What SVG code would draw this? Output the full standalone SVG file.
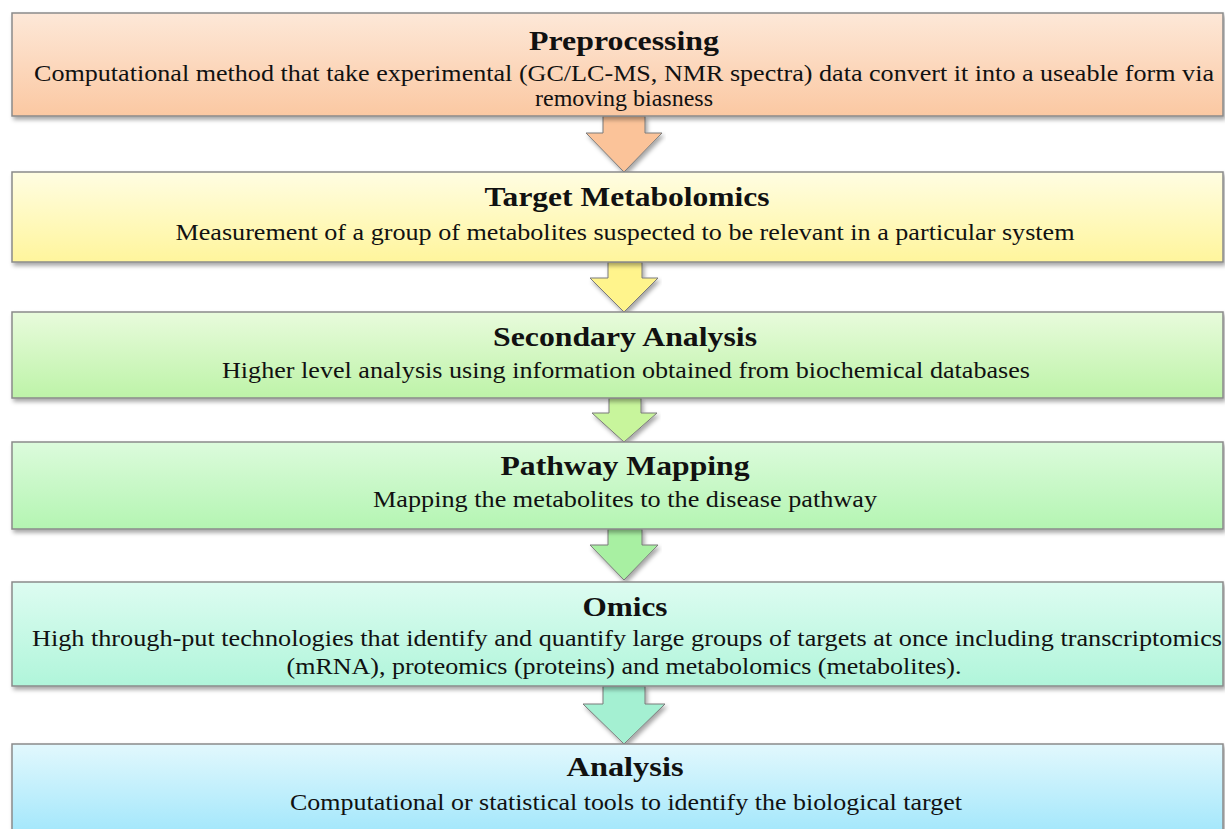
<svg xmlns="http://www.w3.org/2000/svg" width="1225" height="829" viewBox="0 0 1225 829">
<style>
.box{stroke:#8a8a8a;stroke-width:1.5;filter:url(#sh)}
.arr{stroke:#7a7a7a;stroke-width:1;filter:url(#sh)}
.t{font-family:'Liberation Serif','Times New Roman',Times,serif;font-weight:bold;font-size:27px;fill:#111;text-anchor:middle}
.b{font-family:'Liberation Serif','Times New Roman',Times,serif;font-size:23.5px;fill:#111;text-anchor:middle}
</style>
<defs>
<filter id="sh" x="-5%" y="-20%" width="110%" height="150%">
<feDropShadow dx="2" dy="3" stdDeviation="2" flood-color="#000" flood-opacity="0.35"/>
</filter>
<linearGradient id="g1" x1="0" y1="0" x2="0" y2="1"><stop offset="0" stop-color="#fde8d8"/><stop offset="1" stop-color="#fbc8a2"/></linearGradient>
<linearGradient id="g2" x1="0" y1="0" x2="0" y2="1"><stop offset="0" stop-color="#fffde2"/><stop offset="1" stop-color="#fff59c"/></linearGradient>
<linearGradient id="g3" x1="0" y1="0" x2="0" y2="1"><stop offset="0" stop-color="#e8fbdc"/><stop offset="1" stop-color="#bdf3a8"/></linearGradient>
<linearGradient id="g4" x1="0" y1="0" x2="0" y2="1"><stop offset="0" stop-color="#dcfbdc"/><stop offset="1" stop-color="#b4f5b2"/></linearGradient>
<linearGradient id="g5" x1="0" y1="0" x2="0" y2="1"><stop offset="0" stop-color="#ddfcf1"/><stop offset="1" stop-color="#b0f5da"/></linearGradient>
<linearGradient id="g6" x1="0" y1="0" x2="0" y2="1"><stop offset="0" stop-color="#e2f8fd"/><stop offset="1" stop-color="#9fe6fb"/></linearGradient>
</defs>
<rect width="1225" height="829" fill="#fff"/>
<g id="connectors">
<path class="arr" fill="#fbc399" d="M603,116 L645,116 L645,133 L662,133 L624,172 L586,133 L603,133 Z"/>
<path class="arr" fill="#fff48c" d="M608,262 L642,262 L642,278 L658,278 L624,312 L590,278 L608,278 Z"/>
<path class="arr" fill="#c8f59c" d="M609,398 L641,398 L641,413 L657,413 L624,442 L592,413 L609,413 Z"/>
<path class="arr" fill="#a8f0a2" d="M608,529 L642,529 L642,545 L658,545 L624,580 L590,545 L608,545 Z"/>
<path class="arr" fill="#a4f0d2" d="M603,686 L645,686 L645,704 L665,704 L624,744 L583,704 L603,704 Z"/>
</g>
<g id="preprocessing">
<rect class="box" x="12" y="13" width="1211" height="103" fill="url(#g1)"/>
<text class="t" x="624" y="50" textLength="190" lengthAdjust="spacingAndGlyphs">Preprocessing</text>
<text class="b" x="624" y="81" textLength="1180" lengthAdjust="spacingAndGlyphs">Computational method that take experimental (GC/LC-MS, NMR spectra) data convert it into a useable form via</text>
<text class="b" x="624" y="106" textLength="178" lengthAdjust="spacingAndGlyphs">removing biasness</text>
</g>
<g id="target-metabolomics">
<rect class="box" x="12" y="172" width="1211" height="90" fill="url(#g2)"/>
<text class="t" x="627" y="206" textLength="285" lengthAdjust="spacingAndGlyphs">Target Metabolomics</text>
<text class="b" x="625" y="240" textLength="899" lengthAdjust="spacingAndGlyphs">Measurement of a group of metabolites suspected to be relevant in a particular system</text>
</g>
<g id="secondary-analysis">
<rect class="box" x="12" y="312" width="1211" height="86" fill="url(#g3)"/>
<text class="t" x="625" y="346" textLength="264" lengthAdjust="spacingAndGlyphs">Secondary Analysis</text>
<text class="b" x="626" y="378" textLength="808" lengthAdjust="spacingAndGlyphs">Higher level analysis using information obtained from biochemical databases</text>
</g>
<g id="pathway-mapping">
<rect class="box" x="12" y="442" width="1211" height="87" fill="url(#g4)"/>
<text class="t" x="625" y="475" textLength="249" lengthAdjust="spacingAndGlyphs">Pathway Mapping</text>
<text class="b" x="625" y="507" textLength="504" lengthAdjust="spacingAndGlyphs">Mapping the metabolites to the disease pathway</text>
</g>
<g id="omics">
<rect class="box" x="12" y="582" width="1211" height="104" fill="url(#g5)"/>
<text class="t" x="625" y="616" textLength="85" lengthAdjust="spacingAndGlyphs">Omics</text>
<text class="b" x="627" y="646" textLength="1190" lengthAdjust="spacingAndGlyphs">High through-put technologies that identify and quantify large groups of targets at once including transcriptomics</text>
<text class="b" x="624" y="674" textLength="675" lengthAdjust="spacingAndGlyphs">(mRNA), proteomics (proteins) and metabolomics (metabolites).</text>
</g>
<g id="analysis">
<rect class="box" x="12" y="744" width="1211" height="95" fill="url(#g6)"/>
<text class="t" x="625" y="776" textLength="117" lengthAdjust="spacingAndGlyphs">Analysis</text>
<text class="b" x="626" y="810" textLength="672" lengthAdjust="spacingAndGlyphs">Computational or statistical tools to identify the biological target</text>
</g>
</svg>
